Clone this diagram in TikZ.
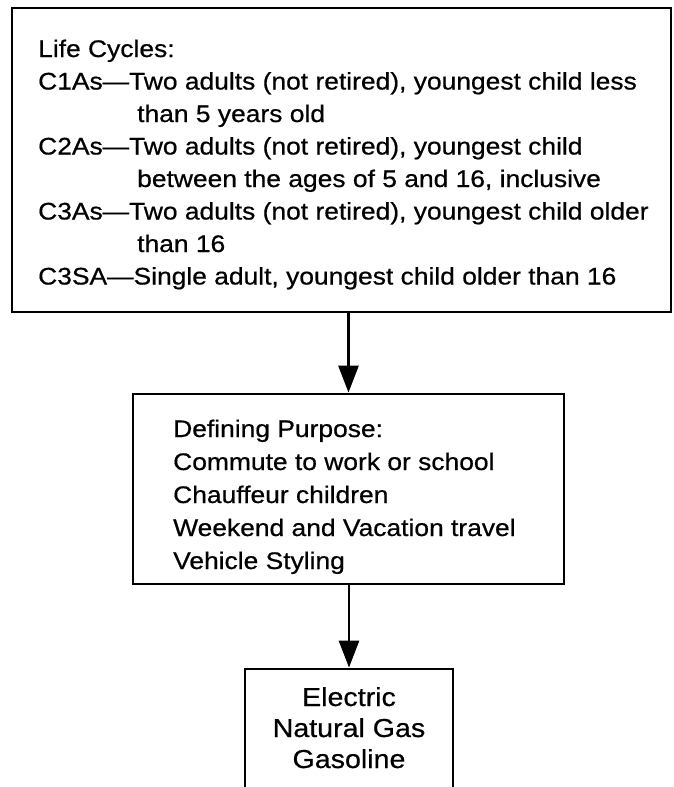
\documentclass[tikz,border=0pt]{standalone}
\usepackage{fontspec}
\setmainfont{Liberation Sans}
\newfontfamily\widefont[FakeStretch=1.1,FakeBold=0.6]{Liberation Sans}
\usetikzlibrary{arrows.meta}
\begin{document}
\begin{tikzpicture}[x=1pt,y=-1pt,
  box/.style={draw, line width=2.8pt, inner sep=0pt},
  txt/.style={anchor=base west, inner sep=0pt, font=\widefont\fontsize{24}{28}\selectfont},
  ctxt/.style={anchor=base, inner sep=0pt, font=\widefont\fontsize{26}{30}\selectfont},
  arr/.style={line width=2.8pt, -{Triangle[length=27pt,width=20pt]}}]
\useasboundingbox (0,0) rectangle (673,787);
\clip (0,0) rectangle (673,787);
% boxes
\node[box, minimum width=659pt, minimum height=304pt] (top) at (341.5,160) {};
\node[box, minimum width=431pt, minimum height=190pt] (mid) at (348.5,489) {};
\node[box, minimum width=208pt, minimum height=160pt] (bot) at (349,749) {};
% connectors
\draw[arr] (top.south -| mid.north) -- (mid.north);
\draw[arr] (mid.south -| bot.north) -- (bot.north);
% top text
\node[txt] (t1) at (38,57) {Life Cycles:};
\node[txt] (t2) at (38,89.5) {C1As—Two adults (not retired), youngest child less};
\node[txt] (t3) at (137,122) {than 5 years old};
\node[txt] (t4) at (38,154.5) {C2As—Two adults (not retired), youngest child};
\node[txt] (t5) at (137,187) {between the ages of 5 and 16, inclusive};
\node[txt] (t6) at (38,219.5) {C3As—Two adults (not retired), youngest child older};
\node[txt] (t7) at (137,252) {than 16};
\node[txt] (t8) at (38,284.5) {C3SA—Single adult, youngest child older than 16};
% middle text
\node[txt] (m1) at (173,437) {Defining Purpose:};
\node[txt] (m2) at (173,470) {Commute to work or school};
\node[txt] (m3) at (173,503) {Chauffeur children};
\node[txt] (m4) at (173,536) {Weekend and Vacation travel};
\node[txt] (m5) at (173,569) {Vehicle Styling};
% bottom text
\node[ctxt] (b1) at (349,706) {Electric};
\node[ctxt] (b2) at (349,737) {Natural Gas};
\node[ctxt] (b3) at (349,768) {Gasoline};
\end{tikzpicture}
\end{document}
